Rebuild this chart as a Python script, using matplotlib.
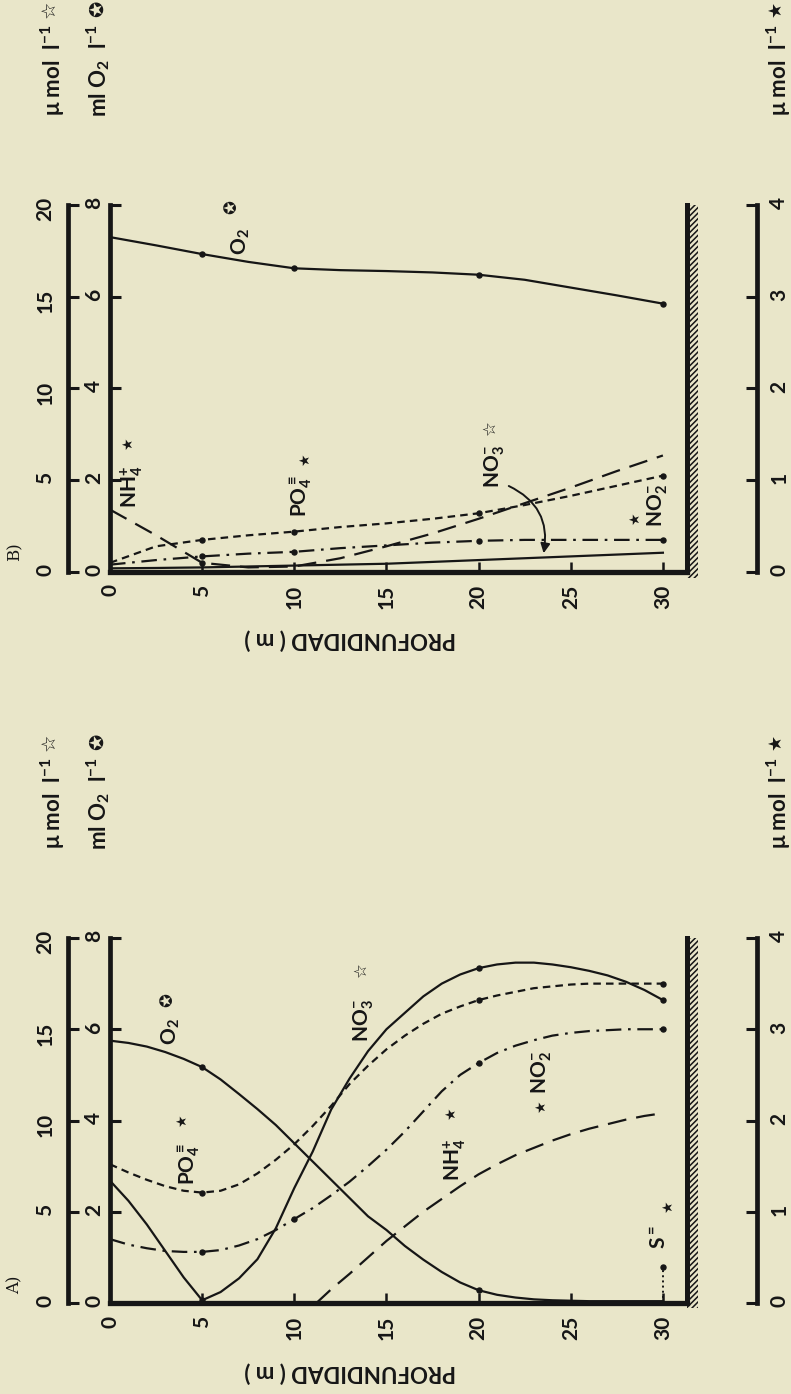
import matplotlib
matplotlib.use('Agg')
import matplotlib.pyplot as plt
from matplotlib.patches import Rectangle

plt.rcParams['font.family'] = ['Lato', 'DejaVu Sans']
plt.rcParams['font.weight'] = 'bold'
plt.rcParams['mathtext.fontset'] = 'custom'
plt.rcParams['mathtext.rm'] = 'Lato:bold'
plt.rcParams['mathtext.it'] = 'Lato:bold'
plt.rcParams['mathtext.bf'] = 'Lato:bold'
plt.rcParams['mathtext.default'] = 'rm'
plt.rcParams['hatch.linewidth'] = 1.1

# ---------------- data ----------------
depth_ticks = [0, 5, 10, 15, 20, 25, 30]
ticks_umol = [0, 5, 10, 15, 20]
ticks_o2 = [0, 2, 4, 6, 8]
ticks_star = [0, 1, 2, 3, 4]
floor_depth = 31.3

# Panel A
depth_A = list(range(0, 31))
o2_A = [5.75, 5.70, 5.62, 5.50, 5.35, 5.17, 4.90, 4.58, 4.25, 3.90, 3.50, 3.10, 2.70, 2.30, 1.90,
        1.60, 1.25, 0.95, 0.68, 0.45, 0.28, 0.18, 0.12, 0.08, 0.06, 0.05, 0.04, 0.04, 0.04, 0.04, 0.04]
no3_A = [6.7, 5.6, 4.3, 2.85, 1.4, 0.15, 0.6, 1.35, 2.4, 4.1, 6.3, 8.3, 10.6, 12.3, 13.8,
         15.0, 15.9, 16.8, 17.5, 18.0, 18.35, 18.55, 18.65, 18.65, 18.55, 18.4, 18.2, 17.95, 17.6, 17.15, 16.6]
po4_A = [1.52, 1.43, 1.35, 1.28, 1.23, 1.21, 1.23, 1.30, 1.42, 1.57, 1.74, 1.94, 2.16, 2.40, 2.60,
         2.78, 2.93, 3.06, 3.17, 3.25, 3.32, 3.37, 3.41, 3.45, 3.47, 3.49, 3.50, 3.50, 3.50, 3.50, 3.50]
no2_A = [0.70, 0.64, 0.60, 0.57, 0.56, 0.56, 0.58, 0.63, 0.70, 0.80, 0.92, 1.04, 1.18, 1.33, 1.50,
         1.68, 1.88, 2.10, 2.32, 2.50, 2.63, 2.74, 2.82, 2.88, 2.93, 2.96, 2.98, 2.99, 3.00, 3.00, 3.00]
nh4_depth_A = [11.2, 12, 13, 14, 15, 16, 17, 18, 19, 20, 21, 22, 23, 24, 25, 26, 27, 28, 29, 30]
nh4_A = [0.0, 0.15, 0.32, 0.50, 0.68, 0.84, 1.00, 1.14, 1.28, 1.41, 1.52, 1.62, 1.70, 1.78, 1.85,
         1.91, 1.96, 2.01, 2.05, 2.08]
s_depth_A = [30]
s_A = [0.39]
dots_o2_A = [5, 20]
dots_no3_A = [5, 20, 30]
dots_po4_A = [5, 20, 30]
dots_no2_A = [5, 10, 20, 30]

# Panel B
depth_B = [0, 2.5, 5, 7.5, 10, 12.5, 15, 17.5, 20, 22.5, 25, 27.5, 30]
o2_B = [7.30, 7.12, 6.93, 6.76, 6.62, 6.58, 6.56, 6.53, 6.48, 6.37, 6.20, 6.03, 5.85]
no3_B = [0.20, 0.22, 0.25, 0.30, 0.35, 0.40, 0.45, 0.55, 0.65, 0.75, 0.85, 0.95, 1.05]
po4_B = [0.10, 0.28, 0.35, 0.40, 0.44, 0.49, 0.53, 0.58, 0.64, 0.73, 0.83, 0.94, 1.05]
no2_B = [0.08, 0.13, 0.17, 0.20, 0.22, 0.26, 0.29, 0.32, 0.34, 0.35, 0.35, 0.35, 0.35]
nh4_B = [0.68, 0.40, 0.10, 0.05, 0.06, 0.15, 0.28, 0.42, 0.58, 0.75, 0.92, 1.10, 1.27]
dots_B = [5, 10, 20, 30]

# ---------------- style ----------------
INK = '#161616'
BG = '#e9e6c9'
W, H = 791, 1394
PX_M = 18.43
X0 = 110
XMAX = 32.0
LW = 1.6
TICK_FS = 15
LAB_FS = 15
UNIT_FS = 16
SYM = ['DejaVu Sans']

fig = plt.figure(figsize=(W / 100, H / 100), dpi=100, facecolor=BG)


def pick(depths, vals, ds):
    return [vals[depths.index(d)] for d in ds]


def make_axes(base_y, top_y):
    rect = [X0 / W, (H - base_y) / H, XMAX * PX_M / W, (base_y - top_y) / H]
    ax = fig.add_axes(rect)
    ax.set_facecolor('none')
    ax.set_xlim(0, XMAX)
    ax.set_ylim(0, 8)
    for s in ('top', 'right'):
        ax.spines[s].set_visible(False)
    ax.spines['left'].set_linewidth(3.4)
    ax.spines['bottom'].set_linewidth(3.8)
    ax.spines['bottom'].set_bounds(0, floor_depth)
    for s in ax.spines.values():
        s.set_color(INK)
        s.set_capstyle('projecting')
    ax.set_xticks(depth_ticks)
    ax.set_yticks(ticks_o2)
    ax.tick_params(axis='x', direction='in', length=7, width=1.8, pad=9,
                   labelsize=TICK_FS, labelrotation=90, colors=INK)
    ax.tick_params(axis='y', direction='in', length=8, width=2.2, pad=4,
                   labelsize=TICK_FS, labelrotation=90, colors=INK)

    # 0-20 umol axis (outer left)
    a20 = ax.twinx()
    a20.set_ylim(0, 20)
    a20.set_facecolor('none')
    for s in ('top', 'right', 'bottom'):
        a20.spines[s].set_visible(False)
    a20.spines['left'].set_visible(True)
    a20.spines['left'].set_position(('outward', 42 * 0.72))
    a20.spines['left'].set_linewidth(3.4)
    a20.spines['left'].set_color(INK)
    a20.yaxis.set_ticks_position('left')
    a20.yaxis.set_label_position('left')
    a20.set_yticks(ticks_umol)
    a20.tick_params(axis='y', direction='in', length=8, width=2.2, pad=9,
                    labelsize=TICK_FS, labelrotation=90, colors=INK)

    # 0-4 umol axis (star, right, detached)
    a4 = ax.twinx()
    a4.set_ylim(0, 4)
    a4.set_facecolor('none')
    for s in ('top', 'left', 'bottom'):
        a4.spines[s].set_visible(False)
    a4.spines['right'].set_position(('outward', 57 * 0.72))
    a4.spines['right'].set_linewidth(3.4)
    a4.spines['right'].set_color(INK)
    a4.set_yticks(ticks_star)
    a4.tick_params(axis='y', direction='in', length=8, width=2.2, pad=9,
                   labelsize=TICK_FS, labelrotation=90, colors=INK)

    # sea floor
    ax.plot([floor_depth, floor_depth], [0, 8], color=INK, lw=3.6,
            solid_capstyle='projecting', clip_on=False, zorder=5)
    ax.add_patch(Rectangle((floor_depth, -0.12), 0.6, 8.12, fill=False, hatch='//////',
                           edgecolor=INK, lw=0, clip_on=False, zorder=4))
    return ax, a20, a4


def rtext(ax, x, y, s, fs=LAB_FS, **kw):
    ax.text(x, y, s, rotation=90, ha='center', va='center', fontsize=fs,
            color=INK, zorder=10, **kw)


def star(ax, x, y, s, fs=11):
    rtext(ax, x, y, s, fs=fs, family=SYM)


ss = dict(color=INK, lw=LW)
dash_short = (0, (3.4, 2.3))
dash_long = (0, (8.5, 4.5))
dash_dot = (0, (7, 3, 1.2, 3))
mk = dict(ls='none', marker='o', ms=3.6, color=INK, zorder=6)

# ---------------- Panel A ----------------
axA, axA20, axA4 = make_axes(1303, 938)
axA.plot(depth_A, o2_A, ls='-', **ss)
axA.plot(dots_o2_A, pick(depth_A, o2_A, dots_o2_A), **mk)
axA20.plot(depth_A, no3_A, ls='-', **ss)
axA20.plot(dots_no3_A, pick(depth_A, no3_A, dots_no3_A), **mk)
axA4.plot(depth_A, po4_A, ls=dash_short, **ss)
axA4.plot(dots_po4_A, pick(depth_A, po4_A, dots_po4_A), **mk)
axA4.plot(depth_A, no2_A, ls=dash_dot, **ss)
axA4.plot(dots_no2_A, pick(depth_A, no2_A, dots_no2_A), **mk)
axA4.plot(nh4_depth_A, nh4_A, ls=dash_long, **ss)
axA4.plot([s_depth_A[0], s_depth_A[0]], [0, s_A[0]], ls=':', color=INK, lw=1.4)
axA4.plot(s_depth_A, s_A, **mk)

rtext(axA, 3.3, 5.95, 'O$_2$')
star(axA, 3.1, 6.65, '✪', fs=12)
rtext(axA, 4.3, 3.05, 'PO$_4^{\\equiv}$')
star(axA, 3.9, 4.0, '★', fs=10)
rtext(axA, 13.75, 6.2, 'NO$_3^{-}$')
star(axA, 13.6, 7.3, '☆', fs=12)
rtext(axA, 18.7, 3.15, 'NH$_4^{+}$')
star(axA, 18.5, 4.15, '★', fs=10)
star(axA, 23.4, 4.3, '★', fs=10)
rtext(axA, 23.4, 5.05, 'NO$_2^{-}$')
rtext(axA, 29.8, 1.45, 'S$^{=}$')
star(axA, 30.3, 2.1, '★', fs=10)

# ---------------- Panel B ----------------
axB, axB20, axB4 = make_axes(572, 205)
axB.plot(depth_B, o2_B, ls='-', **ss)
axB.plot(dots_B, pick(depth_B, o2_B, dots_B), **mk)
axB20.plot(depth_B, no3_B, ls='-', **ss)
axB4.plot(depth_B, po4_B, ls=dash_short, **ss)
axB4.plot(dots_B, pick(depth_B, po4_B, dots_B), **mk)
axB4.plot(depth_B, no2_B, ls=dash_dot, **ss)
axB4.plot(dots_B, pick(depth_B, no2_B, dots_B), **mk)
axB4.plot(depth_B, nh4_B, ls=dash_long, **ss)
axB4.plot(dots_B[:1], pick(depth_B, nh4_B, dots_B[:1]), **mk)

rtext(axB, 7.1, 7.2, 'O$_2$')
star(axB, 6.6, 7.95, '✪', fs=12)
rtext(axB, 1.2, 1.85, 'NH$_4^{+}$')
star(axB, 1.0, 2.8, '★', fs=10)
rtext(axB, 10.4, 1.65, 'PO$_4^{\\equiv}$')
star(axB, 10.6, 2.45, '★', fs=10)
rtext(axB, 20.9, 2.3, 'NO$_3^{-}$')
star(axB, 20.6, 3.15, '☆', fs=12)
rtext(axB, 29.7, 1.45, 'NO$_2^{-}$')
star(axB, 28.5, 1.15, '★', fs=10)
axB.annotate('', xy=(23.5, 0.35), xytext=(21.5, 1.9),
             arrowprops=dict(arrowstyle='-|>', connectionstyle='arc3,rad=-0.4',
                             lw=1.4, color=INK, mutation_scale=14), zorder=10)

# ---------------- figure texts ----------------
def ftext(x, y, s, rot=90, fs=TICK_FS, va='center', **kw):
    fig.text(x / W, 1 - y / H, s, rotation=rot, ha='center', va=va,
             fontsize=fs, color=INK, **kw)

for off in (0, -733):
    ftext(50, 742 + off, '☆', fs=14, family=SYM)
    ftext(53, 757 + off, 'μ mol  l$^{-1}$', fs=UNIT_FS, va='top')
    ftext(97, 742 + off, '✪', fs=14, family=SYM)
    ftext(98, 757 + off, 'ml O$_2$  l$^{-1}$', fs=UNIT_FS, va='top')
    ftext(776, 742 + off, '★', fs=13, family=SYM)
    ftext(779, 757 + off, 'μ mol  l$^{-1}$', fs=UNIT_FS, va='top')
    ftext(350, 1372 + off, 'PROFUNDIDAD ( m )', rot=180, fs=16)

ftext(15, 1285, 'A)', fs=12, family='DejaVu Serif', weight='normal')
ftext(15, 552, 'B)', fs=12, family='DejaVu Serif', weight='normal')

fig.savefig('out.png', dpi=100, facecolor=BG)
